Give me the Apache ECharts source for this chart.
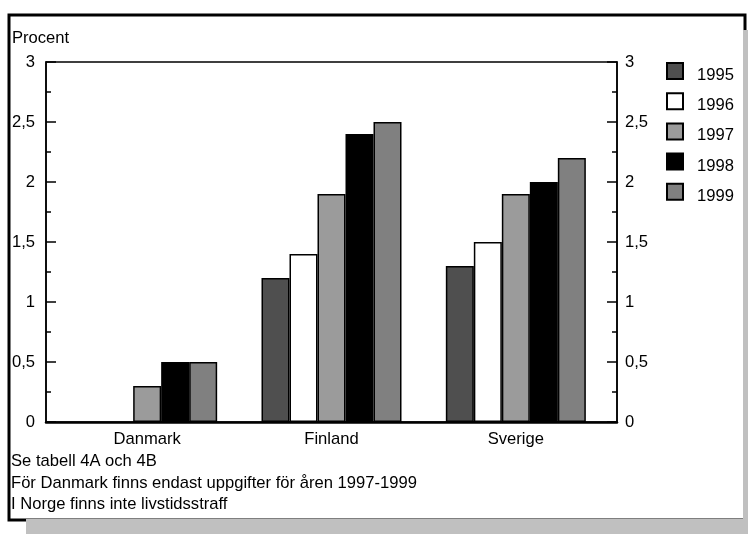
<!DOCTYPE html>
<html>
<head>
<meta charset="utf-8">
<script src="https://cdn.jsdelivr.net/npm/echarts@6/dist/echarts.min.js"></script>
<style>
  html, body { margin: 0; padding: 0; background: #fff; }
  #main { width: 748px; height: 534px; }
</style>
</head>
<body>
<div id="main"></div>
<script>
const countries = ["Danmark", "Finland", "Sverige"];
const years = ["1995", "1996", "1997", "1998", "1999"];
const v1995 = [null, 1.2, 1.3];
const v1996 = [null, 1.4, 1.5];
const v1997 = [0.3, 1.9, 1.9];
const v1998 = [0.5, 2.4, 2.0];
const v1999 = [0.5, 2.5, 2.2];
const colors = ["#4f4f4f", "#ffffff", "#9b9b9b", "#000000", "#808080"];
const notes = [
  "Se tabell 4A och 4B",
  "För Danmark finns endast uppgifter för åren 1997-1999",
  "I Norge finns inte livstidsstraff"
];

const font = "Liberation Sans, Arial, sans-serif";
const fs = 16.6;
const values = [v1995, v1996, v1997, v1998, v1999];

const yAxisBase = {
  type: "value",
  gridIndex: 0,
  min: 0,
  max: 3,
  interval: 0.5,
  splitLine: { show: false },
  axisLine: { show: true, lineStyle: { color: "#000", width: 1.5 } },
  axisTick: { show: true, inside: true, length: 10, lineStyle: { color: "#000", width: 1.5 } },
  minorTick: { show: true, splitNumber: 2, length: 5, lineStyle: { color: "#000", width: 1.5 } },
  axisLabel: {
    color: "#000",
    fontSize: fs,
    fontFamily: font,
    formatter: (v) => String(v).replace(".", ",")
  }
};

const option = {
  backgroundColor: "#fff",
  animation: false,
  graphic: [
    { type: "rect", shape: { x: 9, y: 15, width: 736, height: 505 },
      style: { fill: "#fff", stroke: "#000", lineWidth: 3 }, z: -10 },
    { type: "rect", shape: { x: 743, y: 30, width: 5, height: 504 },
      style: { fill: "#c0c0c0" }, z: -5 },
    { type: "rect", shape: { x: 26, y: 519, width: 722, height: 15 },
      style: { fill: "#c0c0c0" }, z: -5 },
    { type: "text", left: 12, top: 30,
      style: { text: "Procent", fontSize: fs, fontFamily: font, fill: "#000" } },
    ...notes.map((t, i) => ({
      type: "text", left: 11, top: 453 + i * 21.5,
      style: { text: t, fontSize: fs, fontFamily: font, fill: "#000" }
    }))
  ],
  legend: years.map((y, i) => ({
    data: [y],
    left: 661,
    top: 57 + i * 30.2,
    icon: "rect",
    itemWidth: 16,
    itemHeight: 16,
    formatter: "{s| }{y|{name}}",
    textStyle: {
      color: "#000",
      padding: [0, 0, 0, 8],
      rich: {
        s: { height: 26, width: 1, fontSize: fs },
        y: { verticalAlign: "bottom", lineHeight: 18, fontSize: fs, fontFamily: font, color: "#000" }
      }
    }
  })),
  grid: [
    { left: 46, right: 131, top: 62, bottom: 112,
      show: true, borderColor: "#000", borderWidth: 1.5 },
    { left: 55, right: 140, top: 62, bottom: 112 }
  ],
  xAxis: [
    {
      type: "value",
      gridIndex: 0,
      min: 0,
      max: 1,
      splitLine: { show: false },
      axisLine: { show: true, lineStyle: { color: "#000", width: 2.5 } },
      axisTick: { show: false },
      axisLabel: { show: false }
    },
    {
      type: "category",
      gridIndex: 1,
      data: countries,
      axisLine: { show: false },
      axisTick: { show: false },
      axisLabel: { color: "#000", fontSize: fs, fontFamily: font, margin: 9 }
    }
  ],
  yAxis: [
    Object.assign({}, yAxisBase, { position: "left", axisLabel: Object.assign({}, yAxisBase.axisLabel, { margin: 11 }) }),
    Object.assign({}, yAxisBase, { position: "right", axisLabel: Object.assign({}, yAxisBase.axisLabel, { margin: 8 }) }),
    { type: "value", gridIndex: 1, min: 0, max: 3, show: false }
  ],
  series: years.map((y, i) => ({
    name: y,
    type: "bar",
    xAxisIndex: 1,
    yAxisIndex: 2,
    data: values[i],
    barWidth: 28,
    barGap: "0%",
    itemStyle: { color: colors[i], borderColor: "#000", borderWidth: 1.5 }
  }))
};

const myChart = echarts.init(document.getElementById("main"));
myChart.setOption(option);
</script>
</body>
</html>
